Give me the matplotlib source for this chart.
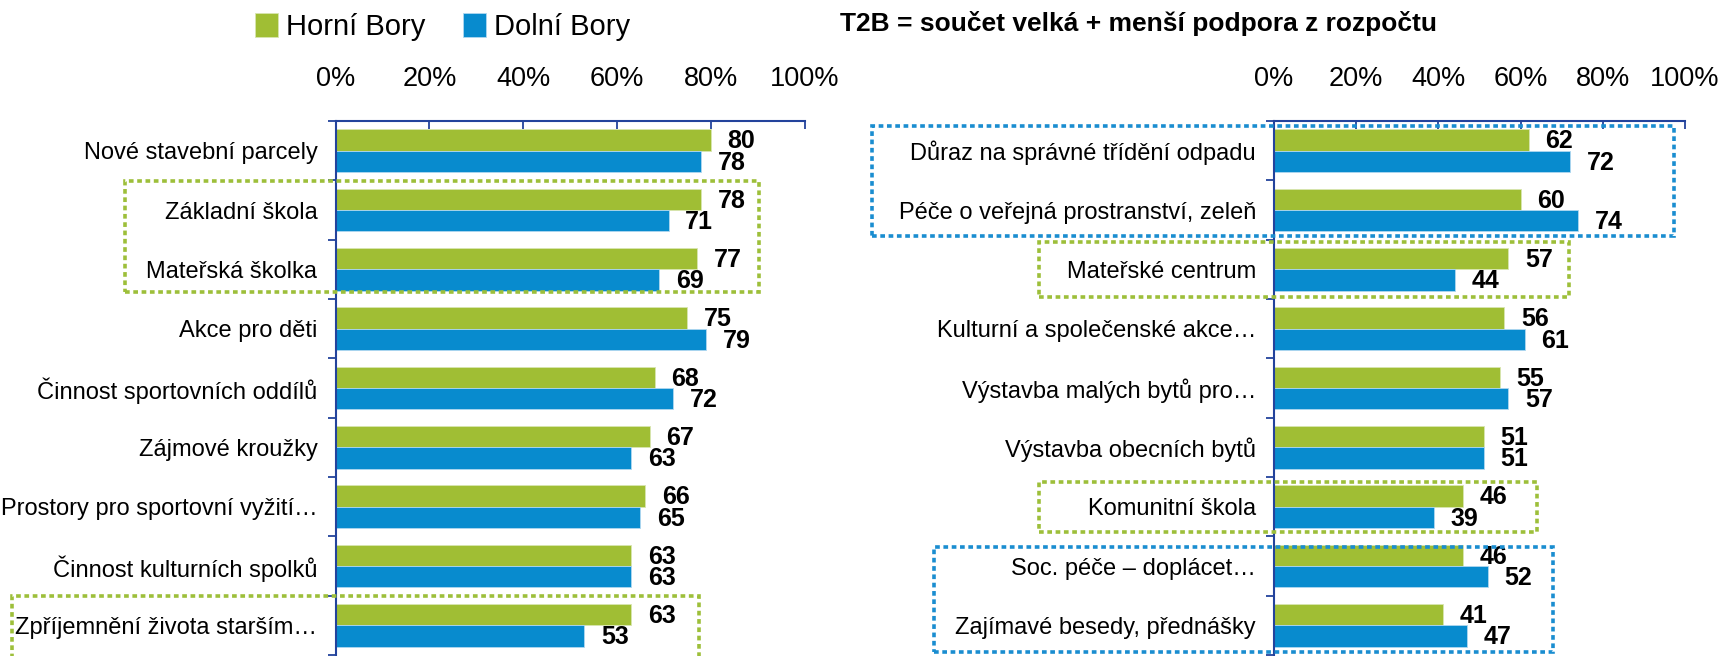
import numpy as np
import matplotlib.pyplot as plt
from matplotlib.patches import Rectangle

plt.rcParams['font.family'] = ['Liberation Sans', 'DejaVu Sans']

# Data
left_cats = ["Nové stavební parcely", "Základní škola", "Mateřská školka", "Akce pro děti",
             "Činnost sportovních oddílů", "Zájmové kroužky", "Prostory pro sportovní vyžití…",
             "Činnost kulturních spolků", "Zpříjemnění života starším…"]
left_horni = [80, 78, 77, 75, 68, 67, 66, 63, 63]
left_dolni = [78, 71, 69, 79, 72, 63, 65, 63, 53]

right_cats = ["Důraz na správné třídění odpadu", "Péče o veřejná prostranství, zeleň",
              "Mateřské centrum", "Kulturní a společenské akce…", "Výstavba malých bytů pro…",
              "Výstavba obecních bytů", "Komunitní škola", "Soc. péče – doplácet…",
              "Zajímavé besedy, přednášky"]
right_horni = [62, 60, 57, 56, 55, 51, 46, 46, 41]
right_dolni = [72, 74, 44, 61, 57, 51, 39, 52, 47]

series_names = ["Horní Bory", "Dolní Bory"]
title = "T2B = součet velká + menší podpora z rozpočtu"
xticks = [0, 20, 40, 60, 80, 100]

GREEN = "#A0BE34"
BLUE = "#088BCE"
AXBLUE = "#23439C"
BOX_GREEN = "#9DBF3A"
BOX_BLUE = "#1A8DD0"

W, H = 1723, 656
fig = plt.figure(figsize=(W / 100, H / 100), dpi=100)


def draw_panel(rect, cats, horni, dolni):
    ax = fig.add_axes(rect)
    y = np.arange(len(cats))
    bh = 0.362
    b1 = ax.barh(y - 0.18, horni, height=bh, color=GREEN, edgecolor="#d8e6b0", linewidth=0.6)
    b2 = ax.barh(y + 0.18, dolni, height=bh, color=BLUE, edgecolor="#b0d8f0", linewidth=0.6)
    for bars, vals in ((b1, horni), (b2, dolni)):
        for bar, v in zip(bars, vals):
            ax.annotate(str(v), (v, bar.get_y() + bar.get_height() / 2),
                        xytext=(12, -1), textcoords="offset points",
                        ha="left", va="center", fontsize=18, fontweight="bold")
    ax.set_xlim(0, 100)
    ax.set_ylim(len(cats) - 0.5, -0.5)
    ax.xaxis.tick_top()
    ax.set_xticks(xticks)
    ax.set_xticklabels([f"{t}%" for t in xticks], fontsize=19.5)
    ax.tick_params(axis="x", direction="in", length=6, width=1.3, color=AXBLUE, pad=21)
    ax.set_yticks(y)
    ax.set_yticklabels(cats, fontsize=17)
    ax.set_yticks(np.arange(len(cats) + 1) - 0.5, minor=True)
    ax.tick_params(axis="y", which="major", length=0, pad=13)
    ax.tick_params(axis="y", which="minor", direction="out", length=5.5, width=1.3, color=AXBLUE)
    for s in ("right", "bottom"):
        ax.spines[s].set_visible(False)
    for s in ("left", "top"):
        ax.spines[s].set_color(AXBLUE)
        ax.spines[s].set_linewidth(1.5)
    return ax, b1, b2


ax1, h1, h2 = draw_panel([335.5 / W, 1 / H, 469.2 / W, 534 / H], left_cats, left_horni, left_dolni)
ax2, _, _ = draw_panel([1274 / W, 1 / H, 411 / W, 534 / H], right_cats, right_horni, right_dolni)

fig.legend([h1, h2], series_names, loc="center left", bbox_to_anchor=(255 / W, 1 - 27 / H),
           ncol=2, frameon=False, fontsize=21, handlelength=0.8, handleheight=0.9,
           handletextpad=0.25, columnspacing=1.3, borderpad=0, borderaxespad=0)

fig.text(840 / W, 1 - 24 / H, title, fontsize=19, fontweight="bold", va="center", ha="left")

# highlight boxes (pixel corners x0, y0, x1, y1 from the top-left)
boxes = [
    (125, 181, 759, 292, BOX_GREEN),
    (12, 596, 699, 662, BOX_GREEN),
    (872, 126, 1674, 236, BOX_BLUE),
    (1039, 242, 1569, 297, BOX_GREEN),
    (1039, 482, 1537, 532, BOX_GREEN),
    (934, 547, 1553, 652, BOX_BLUE),
]
for x0, y0, x1, y1, c in boxes:
    fig.add_artist(Rectangle((x0 / W, 1 - y1 / H), (x1 - x0) / W, (y1 - y0) / H,
                             transform=fig.transFigure, fill=False, edgecolor=c,
                             linewidth=2.6, linestyle=(0, (1.3, 1.0)), clip_on=False))

fig.savefig("out.png", dpi=100)
